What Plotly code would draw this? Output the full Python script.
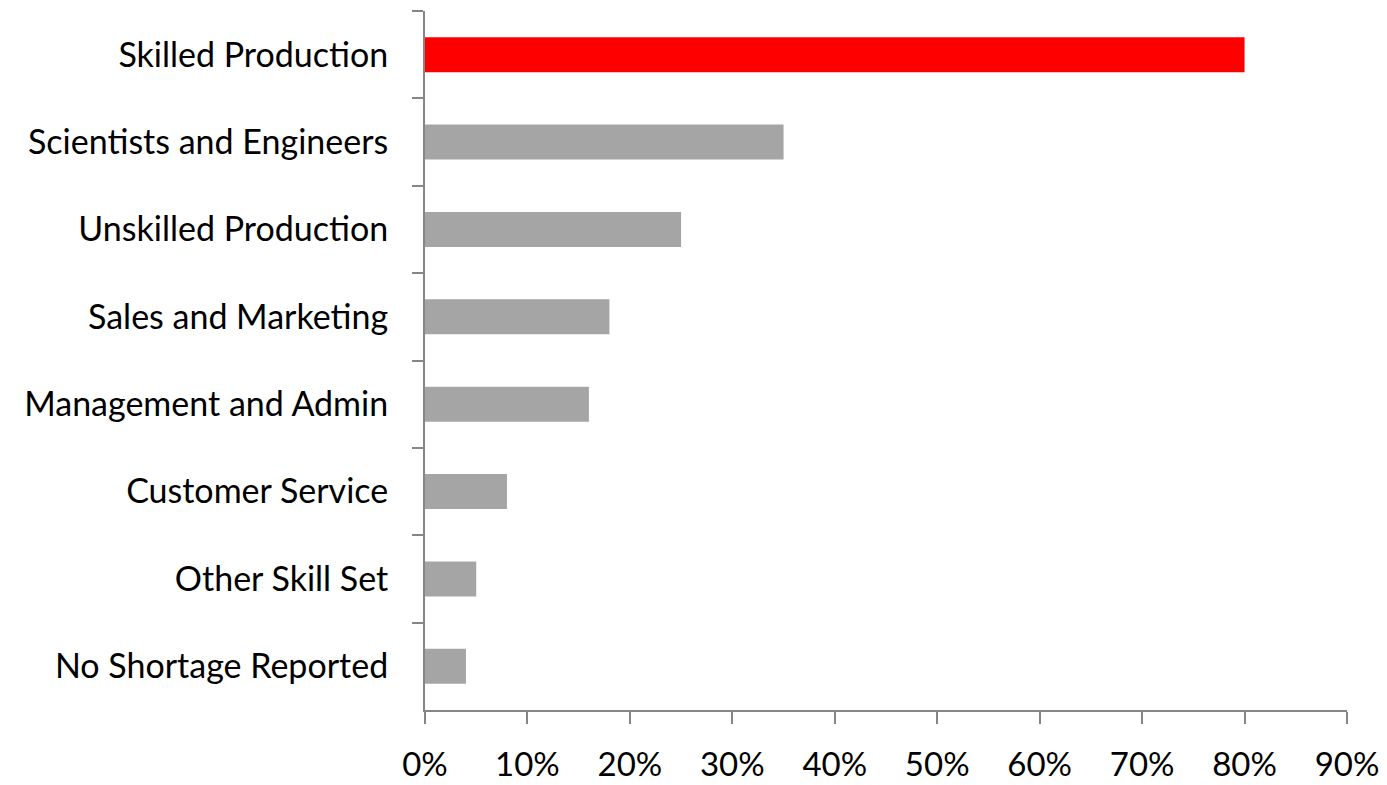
import plotly.graph_objects as go

categories = [
    "Skilled Production",
    "Scientists and Engineers",
    "Unskilled Production",
    "Sales and Marketing",
    "Management and Admin",
    "Customer Service",
    "Other Skill Set",
    "No Shortage Reported",
]
values = [0.80, 0.35, 0.25, 0.18, 0.16, 0.08, 0.05, 0.04]
highlight = "Skilled Production"
x_ticks = [0, 0.1, 0.2, 0.3, 0.4, 0.5, 0.6, 0.7, 0.8, 0.9]
x_tick_labels = ["0%", "10%", "20%", "30%", "40%", "50%", "60%", "70%", "80%", "90%"]

colors = ["#FF0000" if c == highlight else "#A5A5A5" for c in categories]

fig = go.Figure(
    go.Bar(
        x=values,
        y=categories,
        orientation="h",
        marker=dict(color=colors, line=dict(width=0)),
        width=0.4,
    )
)

axis_color = "#868686"
font_family = "Lato, 'Open Sans', sans-serif"

fig.update_layout(
    width=1387,
    height=785,
    margin=dict(l=425, r=40, t=11, b=75),
    plot_bgcolor="white",
    paper_bgcolor="white",
    showlegend=False,
    font=dict(family=font_family, size=34, color="black"),
    xaxis=dict(
        range=[0, 0.9],
        tickvals=x_ticks,
        ticktext=x_tick_labels,
        showgrid=False,
        zeroline=False,
        showline=True,
        linecolor=axis_color,
        linewidth=2,
        ticks="outside",
        ticklen=12,
        tickwidth=2,
        tickcolor=axis_color,
        ticklabelstandoff=12,
        tickfont=dict(size=33),
        automargin=False,
    ),
    yaxis=dict(
        autorange="reversed",
        showgrid=False,
        zeroline=False,
        showline=True,
        linecolor=axis_color,
        linewidth=2,
        ticks="outside",
        ticklen=11,
        tickwidth=2,
        tickcolor=axis_color,
        tickson="boundaries",
        ticklabelstandoff=28,
        automargin=False,
    ),
)

fig.write_html("out.html")
